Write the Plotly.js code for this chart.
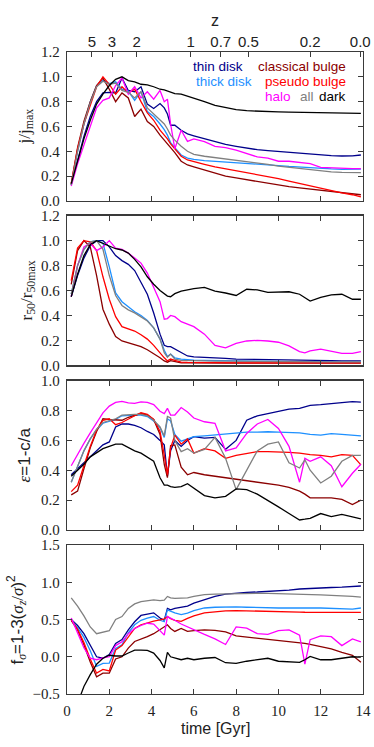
<!DOCTYPE html>
<html>
<head>
<meta charset="utf-8">
<script src="https://cdn.plot.ly/plotly-3.0.1.min.js"></script>
<style>
  body { margin:0; background:#ffffff; }
  #myDiv { width:374px; height:747px; }
</style>
</head>
<body>
<div id="myDiv"></div>
<script>
/***
   component evolution plot, 4 stacked panels sharing time axis
***/

// time grid [Gyr], shared by every curve
let time_gyr=[0.2,0.5,0.8,1.1,1.4,1.7,2.0,2.3,2.6,2.9,3.2,3.5,3.8,4.1,4.4,4.6,4.75,4.9,5.1,5.4,
              5.7,6.0,6.5,7.0,7.5,8.0,8.5,9.0,9.5,10.0,10.5,11.0,11.25,11.5,12.0,12.5,13.0,13.5,13.9];

// panel 1 : j/jmax
let j_thin=[0.13,0.33,0.52,0.68,0.80,0.87,0.875,0.87,0.99,0.89,0.88,0.92,0.78,0.745,0.785,0.75,0.70,0.61,0.61,0.57,
            0.54,0.525,0.50,0.48,0.455,0.44,0.425,0.413,0.405,0.398,0.39,0.383,0.38,0.375,0.37,0.365,0.362,0.363,0.37];
let j_thick=[0.13,0.40,0.62,0.80,0.93,0.975,0.945,0.96,0.90,0.885,0.81,0.88,0.72,0.68,0.62,0.575,0.53,0.47,0.43,0.37,
             0.345,0.335,0.325,0.32,0.315,0.31,0.30,0.295,0.29,0.285,0.278,0.272,0.27,0.267,0.262,0.258,0.255,0.254,0.256];
let j_classical=[0.14,0.43,0.64,0.80,0.93,0.99,0.90,0.80,0.87,0.83,0.68,0.74,0.64,0.60,0.53,0.49,0.46,0.43,0.39,0.32,
                 0.29,0.275,0.25,0.225,0.20,0.185,0.17,0.155,0.14,0.13,0.115,0.105,0.10,0.095,0.085,0.075,0.065,0.057,0.05];
let j_pseudo=[0.14,0.42,0.62,0.78,0.92,1.0,0.94,0.86,0.92,0.87,0.90,0.80,0.71,0.65,0.57,0.53,0.50,0.46,0.42,0.36,
              0.33,0.315,0.295,0.275,0.26,0.245,0.23,0.215,0.20,0.18,0.16,0.14,0.13,0.12,0.10,0.08,0.065,0.05,0.032];
let j_halo=[0.12,0.30,0.45,0.60,0.75,0.81,0.83,0.93,0.99,0.86,0.92,0.83,0.88,0.82,0.89,0.80,0.82,0.62,0.42,0.57,
            0.48,0.50,0.477,0.44,0.43,0.41,0.38,0.355,0.345,0.32,0.32,0.31,0.305,0.30,0.27,0.265,0.265,0.26,0.26];
let j_all=[0.13,0.40,0.62,0.79,0.92,0.965,0.94,0.95,0.89,0.875,0.83,0.88,0.75,0.70,0.65,0.62,0.58,0.53,0.49,0.44,
           0.40,0.375,0.36,0.35,0.34,0.33,0.315,0.305,0.295,0.28,0.27,0.26,0.255,0.25,0.242,0.235,0.23,0.228,0.228];
let j_dark=[0.14,0.33,0.50,0.65,0.78,0.86,0.93,0.98,1.0,0.97,0.96,0.94,0.935,0.92,0.90,0.895,0.885,0.875,0.865,0.86,
            0.845,0.83,0.80,0.77,0.75,0.735,0.727,0.722,0.72,0.717,0.715,0.713,0.712,0.71,0.708,0.707,0.706,0.705,0.706];

// panel 2 : r50/r50max
let r_thin=[0.55,0.72,0.86,0.96,1.0,1.0,0.95,0.88,0.84,0.81,0.76,0.66,0.57,0.42,0.25,0.16,0.15,0.15,0.13,0.10,
            0.075,0.068,0.065,0.06,0.055,0.05,0.048,0.046,0.045,0.043,0.042,0.04,0.04,0.039,0.038,0.037,0.036,0.035,0.035];
let r_thick=[0.57,0.80,0.93,0.99,1.0,0.98,0.79,0.58,0.51,0.47,0.43,0.40,0.36,0.30,0.21,0.12,0.07,0.09,0.06,0.05,
             0.045,0.042,0.04,0.038,0.036,0.035,0.034,0.033,0.032,0.031,0.03,0.03,0.03,0.029,0.029,0.028,0.028,0.028,0.028];
let r_classical=[0.65,0.92,1.0,0.95,0.72,0.45,0.33,0.23,0.195,0.18,0.17,0.15,0.125,0.095,0.06,0.035,0.025,0.038,0.03,0.02,
                 0.019,0.018,0.018,0.018,0.018,0.018,0.018,0.018,0.018,0.018,0.018,0.018,0.018,0.018,0.018,0.018,0.018,0.018,0.018];
let r_pseudo=[0.68,0.94,1.0,0.99,0.92,0.71,0.53,0.39,0.31,0.29,0.275,0.245,0.21,0.16,0.095,0.06,0.035,0.05,0.04,0.026,
              0.024,0.023,0.022,0.022,0.021,0.021,0.02,0.02,0.02,0.02,0.02,0.02,0.02,0.02,0.02,0.02,0.02,0.02,0.02];
let r_halo=[0.55,0.80,0.95,0.98,0.92,0.95,1.0,0.94,0.93,0.90,0.86,0.82,0.74,0.63,0.51,0.37,0.375,0.40,0.39,0.35,
            0.33,0.31,0.25,0.16,0.14,0.175,0.195,0.20,0.195,0.185,0.155,0.11,0.10,0.115,0.13,0.115,0.095,0.095,0.11];
let r_all=[0.57,0.80,0.93,0.99,1.0,0.93,0.72,0.56,0.48,0.445,0.42,0.39,0.355,0.30,0.21,0.10,0.065,0.09,0.05,0.04,
           0.038,0.036,0.035,0.034,0.033,0.032,0.031,0.031,0.03,0.03,0.03,0.029,0.029,0.029,0.028,0.028,0.028,0.028,0.028];
let r_dark=[0.55,0.73,0.88,0.97,1.0,0.98,0.955,0.935,0.925,0.90,0.85,0.79,0.71,0.65,0.60,0.575,0.555,0.55,0.575,0.595,
            0.605,0.615,0.625,0.595,0.58,0.56,0.61,0.605,0.585,0.59,0.59,0.57,0.54,0.515,0.545,0.565,0.57,0.53,0.53];

// panel 3 : epsilon = 1-c/a
let e_thin=[0.37,0.41,0.45,0.49,0.53,0.57,0.59,0.69,0.71,0.71,0.70,0.685,0.66,0.64,0.60,0.57,0.36,0.53,0.60,0.56,
            0.60,0.625,0.615,0.62,0.54,0.60,0.735,0.765,0.78,0.795,0.81,0.815,0.825,0.835,0.84,0.848,0.855,0.86,0.857];
let e_thick=[0.32,0.42,0.53,0.61,0.67,0.715,0.725,0.74,0.765,0.77,0.77,0.77,0.76,0.73,0.685,0.62,0.745,0.73,0.64,0.595,
             0.61,0.625,0.63,0.635,0.645,0.65,0.655,0.655,0.658,0.655,0.655,0.65,0.645,0.64,0.635,0.645,0.64,0.635,0.63];
let e_classical=[0.235,0.26,0.41,0.55,0.66,0.745,0.74,0.735,0.735,0.755,0.77,0.78,0.77,0.74,0.64,0.44,0.35,0.565,0.57,0.42,
                 0.37,0.385,0.37,0.36,0.345,0.34,0.33,0.32,0.31,0.30,0.285,0.26,0.24,0.215,0.215,0.215,0.205,0.17,0.20];
let e_pseudo=[0.257,0.30,0.43,0.56,0.67,0.735,0.745,0.705,0.72,0.745,0.765,0.785,0.775,0.74,0.66,0.50,0.37,0.55,0.635,0.575,
              0.61,0.515,0.545,0.53,0.48,0.50,0.515,0.525,0.525,0.525,0.52,0.515,0.51,0.505,0.50,0.49,0.505,0.50,0.436];
let e_halo=[0.43,0.51,0.58,0.65,0.72,0.785,0.83,0.855,0.862,0.852,0.848,0.858,0.855,0.84,0.795,0.78,0.815,0.77,0.77,0.82,
            0.79,0.75,0.725,0.715,0.53,0.55,0.647,0.71,0.74,0.68,0.56,0.32,0.48,0.46,0.49,0.43,0.29,0.38,0.44];
let e_all=[0.32,0.42,0.53,0.61,0.675,0.72,0.73,0.745,0.77,0.775,0.775,0.775,0.765,0.735,0.69,0.63,0.76,0.75,0.60,0.525,
           0.545,0.515,0.54,0.62,0.48,0.27,0.40,0.53,0.575,0.59,0.45,0.415,0.47,0.40,0.315,0.36,0.46,0.50,0.50];
let e_dark=[0.36,0.40,0.44,0.49,0.52,0.545,0.56,0.575,0.575,0.55,0.53,0.515,0.49,0.46,0.35,0.30,0.30,0.29,0.285,0.29,
            0.31,0.28,0.23,0.215,0.225,0.275,0.27,0.24,0.20,0.155,0.11,0.067,0.072,0.078,0.11,0.09,0.105,0.09,0.075];

// panel 4 : f_sigma = 1-3(sigma_z/sigma)^2
let f_thin=[0.50,0.42,0.31,0.15,0.0,-0.02,0.03,0.18,0.23,0.36,0.47,0.555,0.575,0.59,0.52,0.49,0.65,0.63,0.65,0.67,
            0.68,0.72,0.77,0.81,0.84,0.855,0.865,0.87,0.875,0.88,0.895,0.91,0.915,0.92,0.925,0.93,0.935,0.94,0.95];
let f_thick=[0.50,0.39,0.26,0.08,-0.13,-0.09,-0.085,0.11,0.16,0.32,0.43,0.49,0.52,0.54,0.49,0.47,0.63,0.61,0.59,0.565,
             0.585,0.62,0.655,0.665,0.672,0.67,0.665,0.66,0.655,0.655,0.655,0.66,0.66,0.655,0.655,0.65,0.645,0.64,0.655];
let f_classical=[0.49,0.36,0.16,-0.07,-0.27,-0.22,-0.22,-0.03,0.0,0.116,0.205,0.235,0.27,0.31,0.37,0.41,0.43,0.38,0.34,0.38,
                 0.34,0.35,0.36,0.355,0.335,0.28,0.265,0.25,0.235,0.215,0.20,0.19,0.18,0.165,0.135,0.105,0.06,0.02,-0.075];
let f_pseudo=[0.50,0.37,0.19,-0.03,-0.22,-0.17,-0.19,0.09,0.15,0.27,0.38,0.43,0.46,0.48,0.495,0.51,0.54,0.51,0.49,0.475,
              0.515,0.55,0.59,0.605,0.615,0.62,0.615,0.61,0.607,0.605,0.60,0.60,0.598,0.597,0.595,0.595,0.594,0.594,0.595];
let f_halo=[0.52,0.32,0.12,-0.02,-0.04,-0.015,0.0,0.15,0.20,0.31,0.38,0.42,0.45,0.44,0.35,0.29,0.54,0.52,0.49,0.44,
            0.40,0.365,0.30,0.24,0.165,0.40,0.385,0.31,0.30,0.35,0.36,0.29,-0.10,0.23,0.28,0.27,0.15,0.24,0.20];
let f_all=[0.79,0.68,0.55,0.40,0.31,0.335,0.35,0.50,0.54,0.65,0.71,0.74,0.755,0.765,0.755,0.76,0.81,0.79,0.785,0.785,
           0.79,0.81,0.835,0.84,0.845,0.85,0.852,0.852,0.85,0.848,0.845,0.84,0.838,0.835,0.83,0.825,0.82,0.81,0.80];
let f_dark=[-0.85,-0.62,-0.40,-0.24,-0.10,-0.02,0.02,0.01,0.01,0.05,0.09,0.09,0.085,0.05,-0.05,-0.15,0.06,0.0,-0.015,-0.04,
            -0.02,-0.04,-0.02,-0.01,-0.08,-0.09,-0.06,-0.04,-0.02,-0.06,-0.07,-0.075,-0.04,0.005,-0.04,-0.04,-0.02,0.0,-0.005];

// redshift labels of the top axis and the time they sit at
let z_tick_time=[1.18,2.13,3.29,5.85,7.27,8.58,11.5,13.87];
let z_tick_text=['5','3','2','1','0.7','0.5','0.2','0.0'];

let comp_names=['thin disk','thick disk','classical bulge','pseudo bulge','halo','all','dark'];
let comp_colors=['#00008b','#1e90ff','#8b0000','#ff0000','#ff00ff','#808080','#000000'];

let panels=[
  [j_thin,j_thick,j_classical,j_pseudo,j_halo,j_all,j_dark],
  [r_thin,r_thick,r_classical,r_pseudo,r_halo,r_all,r_dark],
  [e_thin,e_thick,e_classical,e_pseudo,e_halo,e_all,e_dark],
  [f_thin,f_thick,f_classical,f_pseudo,f_halo,f_all,f_dark]
];

let yranges=[[0,1.2],[0,1.2],[0,1.0],[-0.5,1.5]];
let ydticks=[0.2,0.2,0.2,0.5];
let ydomains=[[0.768,1.0],[0.512,0.745],[0.2555,0.488],[0,0.232]];

let serif='Liberation Serif';
let sans='Liberation Sans';
let frame_color='#3a3a3a';
let text_color='#222222';

let data=[];
for(let p=0; p<panels.length; p++) {
  let sfx=(p==0)?'':String(p+1);
  for(let c=0; c<comp_names.length; c++) {
    data.push({ x: time_gyr,
                y: panels[p][c],
                name: comp_names[c],
                showlegend: false,
                mode: 'lines',
                type: 'scatter',
                line: { color: comp_colors[c], width: 1.3 },
                xaxis: 'x'+sfx,
                yaxis: 'y'+sfx,
                hoverinfo: 'skip' });
  }
}
// empty trace so that the redshift axis gets drawn
data.push({ x: [], y: [], type: 'scatter', mode: 'lines', xaxis: 'x5', yaxis: 'y',
            showlegend: false, hoverinfo: 'skip' });

let layout = {
  width: 374,
  height: 747,
  paper_bgcolor: '#ffffff',
  plot_bgcolor: '#ffffff',
  margin: { l:67, r:11, t:52, b:53 },
  showlegend: false,
  annotations: [ ]
};

for(let p=0; p<panels.length; p++) {
  let sfx=(p==0)?'':String(p+1);
  layout['xaxis'+sfx] = {
    domain: [0,1],
    anchor: 'y'+sfx,
    range: [0,14],
    tickmode: 'linear',
    tick0: 0,
    dtick: 2,
    ticks: 'inside',
    ticklen: 5,
    tickwidth: 1,
    tickcolor: frame_color,
    showticklabels: (p==3),
    tickfont: { family: serif, size: 15, color: text_color },
    ticklabelstandoff: 3,
    showgrid: false,
    zeroline: false,
    showline: true,
    linecolor: frame_color,
    linewidth: 1.3,
    mirror: (p==0)?true:'ticks'
  };
  layout['yaxis'+sfx] = {
    domain: ydomains[p],
    anchor: 'x'+sfx,
    range: yranges[p],
    tickmode: 'linear',
    tick0: yranges[p][0],
    dtick: ydticks[p],
    tickformat: '.1f',
    ticks: 'inside',
    ticklen: 5,
    tickwidth: 1,
    tickcolor: frame_color,
    tickfont: { family: serif, size: 15, color: text_color },
    ticklabelstandoff: 3,
    showgrid: false,
    zeroline: false,
    showline: true,
    linecolor: frame_color,
    linewidth: 1.3,
    mirror: 'ticks'
  };
}

// redshift axis on top of the first panel
layout.xaxis5 = {
  overlaying: 'x',
  anchor: 'y',
  side: 'top',
  range: [0,14],
  tickmode: 'array',
  tickvals: z_tick_time,
  ticktext: z_tick_text,
  ticks: 'inside',
  ticklen: 5,
  tickwidth: 1,
  tickcolor: frame_color,
  tickfont: { family: sans, size: 15, color: text_color },
  ticklabelstandoff: 1,
  showgrid: false,
  zeroline: false,
  showline: false
};

// axis titles
let ann=layout.annotations;
ann.push({ text: 'z', xref: 'paper', yref: 'paper', x: 0.5, y: 1.049, xanchor: 'center', yanchor: 'middle',
           showarrow: false, font: { family: sans, size: 16, color: text_color } });
ann.push({ text: 'time [Gyr]', xref: 'paper', yref: 'paper', x: 0.5, y: -0.053, xanchor: 'center', yanchor: 'middle',
           showarrow: false, font: { family: sans, size: 16, color: text_color } });

let ytitles=[
  'j/j<sub>max</sub>',
  'r<sub>50</sub>/r<sub>50max</sub>',
  '<span style="font-family:Liberation Serif"><i>ε</i></span>=1-c/a',
  'f<sub><span style="font-family:Liberation Serif"><i>σ</i></span></sub>=1-3(<span style="font-family:Liberation Serif"><i>σ</i><sub><i>z</i></sub>/<i>σ</i></span>)<sup>2</sup>'
];
let ytitle_x=[-0.1385,-0.135,-0.145,-0.169];
let ytitle_font=[serif,serif,sans,sans];
for(let p=0; p<4; p++) {
  let sfx=(p==0)?'':String(p+1);
  ann.push({ text: ytitles[p], xref: 'paper', yref: 'y'+sfx+' domain', x: ytitle_x[p], y: 0.5,
             textangle: -90, showarrow: false, xanchor: 'center', yanchor: 'middle',
             font: { family: ytitle_font[p], size: 17, color: text_color } });
}

// coloured component labels in the first panel
let lab_x=[5.85,6.02,13.29,13.29,9.27,10.92,13.29];
let lab_y=[1.085,0.965,1.085,0.965,0.838,0.838,0.838];
let lab_anchor=['left','left','right','right','left','left','right'];
for(let c=0; c<comp_names.length; c++) {
  ann.push({ text: comp_names[c], xref: 'x', yref: 'y', x: lab_x[c], y: lab_y[c],
             xanchor: lab_anchor[c], yanchor: 'middle', showarrow: false,
             font: { family: sans, size: 13.5, color: comp_colors[c] } });
}

let config = { displayModeBar: false, staticPlot: true };

Plotly.newPlot('myDiv', data, layout, config);
</script>
</body>
</html>
